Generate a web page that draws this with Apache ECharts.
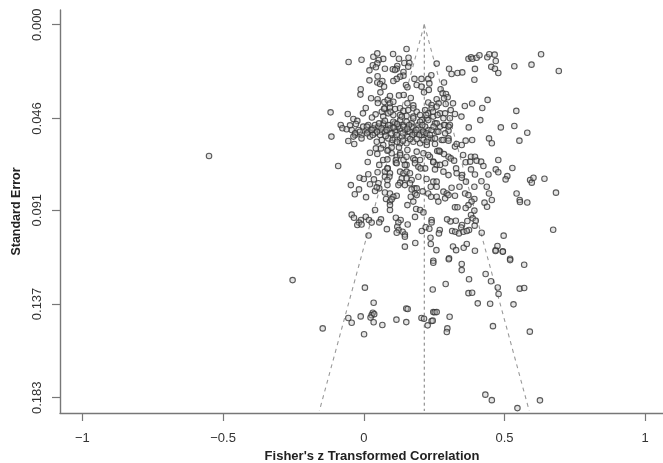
<!DOCTYPE html>
<html><head><meta charset="utf-8">
<style>html,body{margin:0;padding:0;background:#fff}#c{width:663px;height:463px;filter:blur(0.7px)}</style>
<script src="https://cdn.jsdelivr.net/npm/echarts@6/dist/echarts.min.js"></script></head>
<body><div id="c"></div>
<script>
const xTicks=[-1,-0.5,0,0.5,1];
const seTicks=[0,0.046,0.091,0.137,0.183];
const pooled=0.215;
const seBottom=0.1895;
const funnelHalfWidth=0.373;
const studies=[
[-0.55,.0644],[-0.054,.0183],[-0.008,.0172],[0.034,.0157],[0.048,.0141],[0.069,.0168],[0.053,.0173],[0.048,.0190],[0.032,.0199],[0.043,.0209],[0.020,.0224],[0.104,.0144],[0.125,.0167],[0.152,.0119],[0.159,.0162],[0.144,.0188],[0.162,.0188],[0.119,.0203],[0.117,.0216],[0.103,.0219],[0.075,.0216],[0.111,.0222],[0.158,.0206],[0.141,.0232],[0.141,.0250],[0.129,.0255],[0.117,.0266],[0.105,.0276],[0.049,.0253],[0.020,.0273],[0.048,.0284],[0.066,.0276],[0.058,.0291],[0.072,.0304],[0.059,.0332],[-0.011,.0317],[-0.012,.0343],[0.026,.0361],[0.049,.0366],[0.050,.0384],[0.073,.0379],[0.085,.0369],[0.093,.0350],[0.125,.0347],[0.142,.0345],[0.167,.0360],[0.155,.0386],[0.093,.0386],[0.105,.0378],[0.176,.0396],[0.150,.0296],[0.155,.0307],[0.180,.0266],[0.205,.0266],[0.188,.0296],[0.205,.0304],[0.229,.0266],[0.240,.0248],[0.259,.0191],[0.233,.0288],[0.231,.0320],[0.214,.0332],[0.285,.0284],[0.273,.0317],[0.280,.0337],[0.292,.0340],[0.298,.0356],[0.285,.0361],[0.317,.0386],[0.291,.0389],[0.259,.0366],[0.266,.0386],[0.229,.0382],[0.241,.0394],[0.303,.0216],[0.312,.0242],[0.333,.0237],[0.350,.0234],[0.395,.0217],[0.393,.0270],[0.372,.0167],[0.381,.0160],[0.386,.0167],[0.401,.0162],[0.411,.0150],[0.439,.0160],[0.446,.0145],[0.465,.0147],[0.469,.0178],[0.453,.0207],[0.466,.0216],[0.478,.0237],[0.535,.0204],[0.596,.0196],[0.630,.0145],[0.693,.0227],[0.440,.0369],[0.385,.0387],[0.359,.0399],[0.421,.0409],[0.542,.0423],[0.414,.0468],[0.347,.0451],[0.373,.0504],[0.487,.0504],[0.535,.0497],[0.581,.0530],[0.445,.0558],[0.385,.0566],[0.362,.0569],[0.553,.0569],[-0.118,.0430],[-0.057,.0438],[0.007,.0409],[-0.003,.0435],[0.042,.0440],[0.029,.0455],[-0.037,.0463],[-0.023,.0472],[-0.028,.0487],[-0.082,.0492],[-0.076,.0508],[-0.049,.0494],[-0.061,.0513],[-0.043,.0517],[-0.115,.0549],
[0.064,.0427],[0.075,.0410],[0.093,.0407],[0.111,.0414],[0.129,.0410],[0.141,.0423],[0.158,.0419],[0.176,.0410],[0.188,.0427],[0.200,.0443],[0.218,.0419],[0.229,.0435],[0.241,.0410],[0.259,.0402],[0.247,.0451],[0.271,.0435],[0.289,.0435],[0.309,.0419],[0.324,.0438],[0.306,.0459],[0.283,.0459],[0.224,.0459],[0.206,.0468],[0.176,.0451],[0.152,.0448],[0.129,.0443],[0.105,.0443],[0.087,.0435],[0.069,.0451],[0.111,.0484],[0.093,.0492],[0.069,.0492],[0.040,.0492],[0.016,.0492],[-0.002,.0500],[-0.019,.0517],[-0.031,.0541],[-0.008,.0541],[0.016,.0525],[0.040,.0517],[0.064,.0525],[0.087,.0517],[0.117,.0517],[0.141,.0492],[0.170,.0484],[0.194,.0492],[0.182,.0525],[0.158,.0525],[0.253,.0484],[0.271,.0500],[0.289,.0492],[0.306,.0492],[0.301,.0520],[0.259,.0525],[0.229,.0517],[0.212,.0533],[0.241,.0558],
[-0.014,.0525],[-0.031,.0533],[-0.037,.0549],[-0.055,.0571],[-0.034,.0585],[-0.008,.0558],[0.010,.0517],[0.034,.0509],[0.052,.0500],[0.069,.0484],[0.087,.0492],[0.105,.0476],[0.129,.0468],[0.152,.0476],[0.176,.0459],[0.200,.0476],[0.229,.0468],[0.259,.0484],[0.285,.0492],[0.301,.0500],[0.022,.0549],[0.040,.0533],[0.058,.0541],[0.075,.0525],[0.093,.0509],[0.111,.0525],[0.129,.0509],[0.146,.0517],[0.170,.0500],[0.194,.0509],[0.218,.0500],[0.241,.0517],[0.265,.0525],[0.289,.0533],[0.301,.0558],[0.277,.0566],[0.253,.0558],[0.229,.0558],[0.206,.0541],[0.182,.0533],[0.158,.0549],[0.135,.0549],[0.111,.0558],[0.087,.0558],[0.064,.0566],[0.046,.0574],[0.069,.0590],[0.099,.0582],[0.129,.0582],[0.152,.0582],[0.176,.0574],[0.200,.0582],[0.224,.0590],[0.022,.0628],[0.043,.0607],[0.061,.0607],[0.087,.0615],[0.099,.0631],[0.014,.0674],[-0.091,.0693],[0.055,.0688],[0.069,.0664],[0.084,.0661],[0.085,.0705],[0.117,.0648],[0.114,.0677],[0.129,.0631],[0.155,.0615],[0.188,.0623],[0.212,.0631],[0.235,.0648],[0.261,.0620],[0.271,.0623],[0.176,.0656],[0.200,.0664],[0.247,.0672],[0.259,.0688],[0.289,.0680],[0.301,.0648],[0.141,.0664],[0.152,.0688],
[0.012,.0533],[0.028,.0517],[0.047,.0525],[0.063,.0509],[0.081,.0517],[0.098,.0533],[0.117,.0541],[0.122,.0500],[0.138,.0533],[0.141,.0500],[0.163,.0525],[0.172,.0541],[0.187,.0517],[0.197,.0541],[0.211,.0525],[0.223,.0533],[0.235,.0541],[0.248,.0500],[0.102,.0566],[0.118,.0574],[0.139,.0569],[0.165,.0561],[0.188,.0561],[0.212,.0566],[0.078,.0546],[0.032,.0541],[0.011,.0500],[0.054,.0484],[0.075,.0471],[0.118,.0487],[0.161,.0492],[0.208,.0492],[0.222,.0443],[0.135,.0451],[0.095,.0427],[0.072,.0412],[0.246,.0427],[0.262,.0443],[0.155,.0510],[0.106,.0505],
[0.324,.0598],[0.330,.0585],[0.348,.0590],[0.455,.0582],[0.253,.0585],[0.283,.0566],[0.301,.0569],[0.224,.0574],[0.048,.0634],[0.084,.0618],[0.099,.0602],[0.125,.0602],[0.229,.0639],[0.267,.0618],[0.285,.0635],[0.309,.0656],[0.321,.0667],[0.353,.0639],[0.362,.0675],[0.378,.0672],[0.381,.0648],[0.395,.0648],[0.401,.0667],[0.417,.0672],[0.425,.0693],[0.478,.0664],[0.528,.0703],[0.114,.0664],[0.117,.0680],[0.129,.0639],[0.146,.0688],[0.152,.0648],[0.182,.0664],[0.182,.0680],[0.194,.0697],[0.218,.0705],[0.202,.0705],[0.247,.0675],[0.253,.0710],[0.271,.0688],[0.328,.0705],[0.283,.0721],[0.301,.0738],[0.330,.0729],[0.349,.0738],[0.381,.0710],[0.395,.0735],[0.443,.0735],[0.469,.0710],[0.478,.0724],[0.510,.0743],[0.504,.0759],[0.418,.0768],[0.363,.0770],
[0.049,.0724],[-0.015,.0751],[0,.0757],[0.016,.0734],[0.036,.0759],[0.022,.0783],[0.052,.0778],[0.055,.0803],[0.040,.0816],[0.046,.0798],[-0.046,.0787],[-0.017,.0808],[-0.032,.0832],[0.008,.0846],[0.075,.0721],[0.084,.0705],[0.093,.0729],[0.075,.0746],[0.091,.0746],[0.084,.0762],[0.084,.0787],[0.129,.0721],[0.141,.0729],[0.152,.0721],[0.164,.0729],[0.135,.0754],[0.152,.0754],[0.170,.0762],[0.129,.0775],[0.123,.0787],[0.146,.0787],[0.164,.0778],[0.194,.0746],[0.223,.0757],[0.180,.0803],[0.188,.0803],[0.182,.0828],[0.170,.0808],[0.188,.0836],[0.167,.0844],[0.209,.0818],[0.247,.0770],[0.259,.0770],[0.238,.0795],[0.259,.0795],[0.229,.0828],[0.239,.0844],[0.259,.0844],[0.265,.0868],[0.283,.0819],[0.295,.0828],[0.289,.0852],[0.301,.0836],[0.312,.0800],[0.340,.0795],[0.324,.0839],[0.348,.0751],[0.360,.0828],[0.372,.0836],[0.393,.0795],[0.437,.0795],[0.445,.0828],[0.455,.0860],[0.429,.0873],[0.438,.0893],[0.393,.0855],[0.383,.0868],[0.372,.0885],[0.362,.0899],[0.324,.0896],[0.333,.0896],[0.393,.0912],[0.381,.0934],[0.387,.0950],[0.398,.0962],[0.394,.0986],[0.368,.0963],[0.327,.0962],[0.308,.0965],[0.296,.0955],[0.349,.0983],[0.346,.0995],[0.374,.1007],[0.314,.1012],[0.325,.1016],[0.338,.1024],[0.354,.1016],[0.366,.1012],[0.419,.1021],[0.497,.1035],[0.673,.1006],[0.543,.0828],[0.554,.0860],[0.555,.0870],[0.581,.0872],[0.591,.0762],[0.597,.0775],[0.603,.0751],[0.642,.0756],[0.683,.0824],
[0.075,.0823],[0.093,.0828],[0.117,.0839],[0.105,.0844],[0.079,.0855],[0.093,.0868],[0.099,.0857],[0.093,.0885],[0.093,.0909],[0.176,.0868],[0.155,.0885],[0.040,.0909],[0.186,.0904],[0.200,.0909],[0.212,.0921],[0.182,.0943],[-0.043,.0932],[-0.035,.0947],[-0.010,.0958],[-0.017,.0971],[-0.023,.0983],[-0.008,.0980],[0.007,.0942],[0.018,.0958],[0.028,.0971],[0.061,.0955],[0.055,.0970],[0.114,.0947],[0.131,.0958],[0.123,.0971],[0.156,.0980],[0.119,.0991],[0.124,.1007],[0.082,.1003],[0.117,.1021],[0.138,.1016],[0.146,.1029],[0.146,.1040],[0.017,.1034],[0.206,.1012],[0.220,.0994],[0.233,.1001],[0.241,.0958],[0.241,.0970],[0.270,.1007],[0.267,.1024],[0.237,.1045],[0.238,.1076],[0.183,.1071],[0.146,.1089],[0.258,.1106],[0.317,.1088],[0.328,.1106],[0.355,.1094],[0.366,.1076],[0.395,.1109],[0.469,.1106],[0.475,.1086],[0.494,.1112],[0.303,.1146],[0.520,.1148],[0.247,.1158],
[-0.253,.1253],[0.004,.1290],[0.035,.1364],[0.032,.1413],[0.028,.1425],[0.037,.1420],[0.024,.1437],[-0.055,.1439],[-0.043,.1462],[-0.011,.1431],[0.035,.1460],[0.066,.1473],[0.001,.1519],[-0.146,.1490],[0.116,.1447],[0.151,.1459],[0.151,.1392],[0.156,.1395],[0.205,.1439],[0.214,.1443],[0.227,.1475],[0.241,.1454],[0.245,.1452],[0.247,.1410],[0.252,.1411],[0.259,.1410],[0.305,.1433],[0.297,.1490],[0.295,.1508],[0.245,.1299],[0.291,.1272],[0.247,.1168],[0.302,.1151],[0.348,.1174],[0.348,.1204],[0.374,.1249],[0.433,.1223],[0.452,.1259],[0.476,.1289],[0.479,.1321],[0.372,.1317],[0.385,.1315],[0.405,.1367],[0.449,.1369],[0.532,.1372],[0.554,.1295],[0.570,.1292],[0.459,.1479],[0.590,.1506],[0.520,.1155],[0.570,.1178],[0.468,.1110],[0.494,.1114],[0.432,.1815],[0.455,.1842],[0.546,.1881],[0.626,.1843]
];
const font='"Liberation Sans", Arial, sans-serif';
const minusFmt=v=>String(v).replace('-','\u2212');
const chart=echarts.init(document.getElementById('c'),null,{renderer:'canvas'});
const axLine={show:true,onZero:false,lineStyle:{color:'#777',width:1.4}};
chart.setOption({
 animation:false,backgroundColor:'#fff',
 grid:{left:60,right:0,top:10,height:403,containLabel:false,outerBoundsMode:'none'},
 xAxis:{type:'value',min:-1.0796,max:1.0633,splitLine:{show:false},
  axisLine:axLine,
  axisTick:{show:true,length:8,inside:false,customValues:xTicks,lineStyle:{color:'#777',width:1.2}},
  axisLabel:{customValues:xTicks,formatter:minusFmt,color:'#333',fontFamily:font,fontSize:13,margin:19},
  name:"Fisher's z Transformed Correlation",nameLocation:'middle',nameGap:37,
  nameTextStyle:{color:'#222',fontFamily:font,fontSize:13,fontWeight:'bold',padding:[0,0,0,21]}},
 yAxis:{type:'value',inverse:true,min:-0.0072,max:0.1905,splitLine:{show:false},
  axisLine:axLine,
  axisTick:{show:true,length:8,customValues:seTicks,lineStyle:{color:'#777',width:1.2}},
  axisLabel:{customValues:seTicks,rotate:90,formatter:v=>v.toFixed(3),color:'#333',fontFamily:font,fontSize:13,margin:16,align:'center',verticalAlign:'bottom'},
  name:'Standard Error',nameLocation:'middle',nameGap:35,nameRotate:90,
  nameTextStyle:{color:'#222',fontFamily:font,fontSize:12.5,fontWeight:'bold'}},
 series:[
  {type:'line',symbol:'none',silent:true,z:1,data:[[pooled,0],[pooled,seBottom]],lineStyle:{color:'#888',width:1.1,type:[3,3]}},
  {type:'line',symbol:'none',silent:true,z:1,data:[[pooled,0],[pooled-funnelHalfWidth,seBottom]],lineStyle:{color:'#999',width:1.1,type:[4,4]}},
  {type:'line',symbol:'none',silent:true,z:1,data:[[pooled,0],[pooled+funnelHalfWidth,seBottom]],lineStyle:{color:'#999',width:1.1,type:[4,4]}},
  {type:'scatter',z:3,data:studies,symbol:'circle',symbolSize:5.5,itemStyle:{color:'rgba(190,190,190,0.5)',borderColor:'#333',borderWidth:1.1}}
 ]
});
</script></body></html>
